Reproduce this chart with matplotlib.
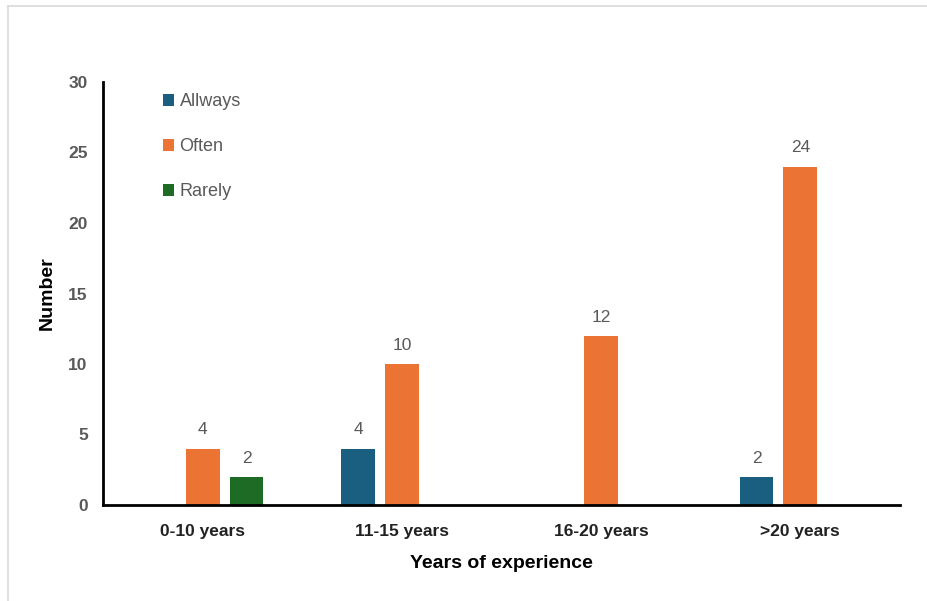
import matplotlib
matplotlib.use("Agg")
import matplotlib.pyplot as plt
import numpy as np
from matplotlib.lines import Line2D

categories = ["0-10 years", "11-15 years", "16-20 years", ">20 years"]
series_names = ["Allways", "Often", "Rarely"]
allways = [0, 4, 0, 2]
often = [4, 10, 12, 24]
rarely = [2, 0, 0, 0]
colors = ["#1a5e80", "#eb7334", "#1e6b26"]

plt.rcParams['font.family'] = ['Liberation Sans', 'DejaVu Sans']

fig = plt.figure(figsize=(9.28, 6.01), dpi=100)
ax = fig.add_axes([103/928, 1-505/601, (900-103)/928, (505-82)/601])

x = np.arange(len(categories))
width = 0.17
offsets = [-0.22, 0.0, 0.22]
data = [allways, often, rarely]
for vals, off, col, name in zip(data, offsets, colors, series_names):
    bars = ax.bar(x + off, vals, width, color=col, label=name)
    for b, v in zip(bars, vals):
        if v > 0:
            ax.annotate(str(v), (b.get_x() + b.get_width()/2, v),
                        xytext=(0, 8), textcoords="offset points",
                        ha="center", va="bottom", fontsize=12.5, color="#595959")

ax.set_xlim(-0.5, 3.5)
ax.set_ylim(0, 30)
ax.set_yticks([0, 5, 10, 15, 20, 25, 30])
ax.set_xticks(x)
ax.set_xticklabels(categories, fontsize=12.5, fontweight="bold", color="#222222")
for lbl in ax.get_yticklabels():
    lbl.set_fontsize(12.5)
    lbl.set_fontweight("bold")
    lbl.set_color("#595959")
ax.tick_params(axis="both", length=0)
ax.tick_params(axis="y", pad=11)
ax.tick_params(axis="x", pad=14)
for s in ["top", "right"]:
    ax.spines[s].set_visible(False)
ax.spines["left"].set_linewidth(2)
ax.spines["bottom"].set_linewidth(2)
ax.set_ylabel("Number", fontsize=14, fontweight="bold")
ax.yaxis.set_label_coords((56-103)/797, 0.5)
ax.set_xlabel("Years of experience", fontsize=14, fontweight="bold", labelpad=11)

leg = ax.legend(loc="upper left", bbox_to_anchor=(147/928, 1-77/601),
                bbox_transform=fig.transFigure, frameon=False,
                handlelength=0.6, handleheight=0.6, handletextpad=0.3,
                labelspacing=1.55, fontsize=13)
for t in leg.get_texts():
    t.set_color("#595959")

# figure border lines (top and left)
fig.add_artist(Line2D([8/928, 1], [1-6/601, 1-6/601], transform=fig.transFigure,
                      color="#d9d9d9", linewidth=1.2))
fig.add_artist(Line2D([8/928, 8/928], [0, 1-6/601], transform=fig.transFigure,
                      color="#d9d9d9", linewidth=1.2))

fig.savefig("out.png", dpi=100)
